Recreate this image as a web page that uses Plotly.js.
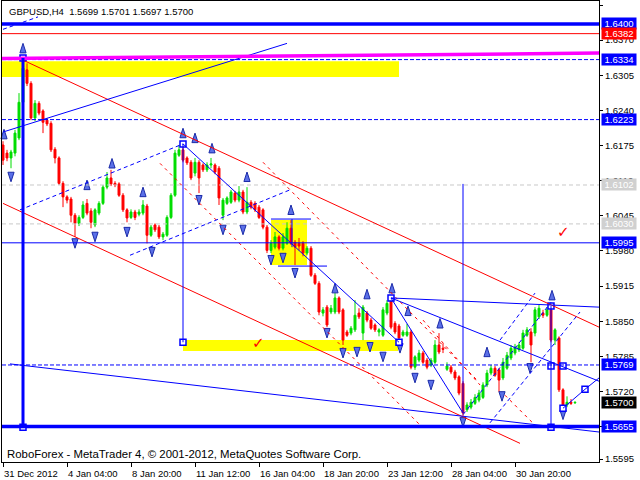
<!DOCTYPE html>
<html><head><meta charset="utf-8">
<script src="https://cdn.plot.ly/plotly-3.0.1.min.js"></script>
<style>html,body{margin:0;padding:0;background:#fff}#chart{width:640px;height:480px}</style>
</head><body><div id="chart"></div>
<script>
// ---------- DATA ----------
const symbolTitle = 'GBPUSD,H4';
const lastQuote = ['1.5699', '1.5701', '1.5697', '1.5700'];
const copyrightText = 'RoboForex - MetaTrader 4, \u00a9 2001-2012, MetaQuotes Software Corp.';

const opens = [
1.6176,1.6161,1.6152,1.6161,1.6189,1.6255,1.6315,1.6290,1.6226,1.6253,
1.6239,1.6222,1.6216,1.6168,1.6152,1.6105,1.6080,1.6076,1.6046,1.6031,
1.6042,1.6068,1.6054,1.6028,1.6050,1.6068,1.6098,1.6115,1.6105,1.6104,
1.6083,1.6056,1.6042,1.6052,1.6048,1.6050,1.6063,1.6009,1.6028,1.6024,
1.6006,1.6009,1.6042,1.6083,1.6157,1.6167,1.6152,1.6144,1.6124,1.6144,
1.6139,1.6130,1.6139,1.6139,1.6133,1.6046,1.6068,1.6070,1.6087,1.6074,
1.6089,1.6052,1.6070,1.6068,1.6061,1.6056,1.6024,1.5981,1.5987,1.6006,
1.5985,1.5994,1.6022,1.5996,1.5994,1.5994,1.5976,1.5985,1.5935,1.5920,
1.5865,1.5876,1.5867,1.5867,1.5893,1.5871,1.5830,1.5828,1.5834,1.5865,
1.5828,1.5865,1.5852,1.5843,1.5830,1.5824,1.5865,1.5889,1.5846,1.5841,
1.5824,1.5824,1.5830,1.5765,1.5778,1.5791,1.5778,1.5769,1.5774,1.5806,
1.5800,1.5761,1.5765,1.5756,1.5747,1.5735,1.5686,1.5691,1.5698,1.5704,
1.5709,1.5732,1.5754,1.5763,1.5760,1.5745,1.5763,1.5782,1.5791,1.5797,
1.5800,1.5824,1.5830,1.5828,1.5858,1.5865,1.5861,1.5871,1.5815,1.5819,
1.5723,1.5695,1.5700,1.5699];
const highs = [
1.6183,1.6167,1.6167,1.6204,1.6272,1.6337,1.6327,1.6294,1.6259,1.6257,
1.6242,1.6226,1.6220,1.6172,1.6155,1.6109,1.6083,1.6080,1.6050,1.6046,
1.6072,1.6076,1.6059,1.6059,1.6072,1.6102,1.6126,1.6130,1.6109,1.6107,
1.6087,1.6059,1.6057,1.6056,1.6057,1.6074,1.6067,1.6028,1.6031,1.6028,
1.6015,1.6046,1.6087,1.6167,1.6176,1.6178,1.6155,1.6148,1.6152,1.6148,
1.6142,1.6144,1.6152,1.6142,1.6137,1.6078,1.6081,1.6093,1.6091,1.6100,
1.6093,1.6098,1.6074,1.6072,1.6065,1.6059,1.6028,1.6000,1.6015,1.6009,
1.6013,1.6033,1.6037,1.6000,1.6004,1.5998,1.5989,1.5989,1.5939,1.5924,
1.5876,1.5880,1.5880,1.5902,1.5896,1.5874,1.5834,1.5841,1.5889,1.5874,
1.5880,1.5869,1.5856,1.5846,1.5837,1.5876,1.5889,1.5893,1.5850,1.5845,
1.5834,1.5845,1.5834,1.5787,1.5797,1.5795,1.5782,1.5782,1.5815,1.5828,
1.5809,1.5774,1.5769,1.5760,1.5750,1.5739,1.5700,1.5706,1.5715,1.5723,
1.5737,1.5760,1.5769,1.5767,1.5763,1.5782,1.5793,1.5806,1.5808,1.5811,
1.5834,1.5839,1.5837,1.5876,1.5880,1.5871,1.5876,1.5880,1.5837,1.5822,
1.5726,1.5711,1.5706,1.5701];
const lows = [
1.6139,1.6146,1.6133,1.6155,1.6185,1.6252,1.6285,1.6222,1.6220,1.6231,
1.6198,1.6211,1.6163,1.6142,1.6102,1.6061,1.6068,1.6033,1.6006,1.6026,
1.6039,1.6046,1.6022,1.6024,1.6046,1.6065,1.6094,1.6100,1.6098,1.6080,
1.6052,1.6033,1.6039,1.6037,1.6044,1.6046,1.5994,1.6006,1.6015,1.6002,
1.6000,1.6006,1.6039,1.6080,1.6154,1.6144,1.6139,1.6111,1.6118,1.6087,
1.6126,1.6126,1.6133,1.6122,1.6065,1.6037,1.6065,1.6067,1.6070,1.6070,
1.6048,1.6048,1.6057,1.6052,1.6039,1.6020,1.5976,1.5976,1.5983,1.5981,
1.5981,1.5991,1.5991,1.5954,1.5981,1.5970,1.5972,1.5932,1.5917,1.5861,
1.5859,1.5839,1.5863,1.5863,1.5863,1.5806,1.5821,1.5824,1.5830,1.5854,
1.5815,1.5848,1.5834,1.5830,1.5822,1.5821,1.5861,1.5835,1.5826,1.5811,
1.5821,1.5821,1.5761,1.5760,1.5774,1.5771,1.5761,1.5765,1.5771,1.5789,
1.5791,1.5758,1.5752,1.5741,1.5713,1.5674,1.5682,1.5687,1.5695,1.5700,
1.5706,1.5728,1.5750,1.5747,1.5719,1.5741,1.5760,1.5778,1.5787,1.5793,
1.5797,1.5821,1.5774,1.5822,1.5854,1.5856,1.5858,1.5811,1.5806,1.5719,
1.5689,1.5691,1.5695,1.5697];
const closes = [
1.6148,1.6152,1.6163,1.6198,1.6255,1.6318,1.6290,1.6226,1.6253,1.6235,
1.6218,1.6215,1.6167,1.6152,1.6105,1.6080,1.6074,1.6046,1.6031,1.6042,
1.6065,1.6050,1.6033,1.6056,1.6068,1.6098,1.6115,1.6104,1.6102,1.6083,
1.6056,1.6041,1.6052,1.6042,1.6052,1.6065,1.6009,1.6024,1.6019,1.6006,
1.6011,1.6042,1.6083,1.6161,1.6167,1.6148,1.6143,1.6115,1.6144,1.6115,
1.6130,1.6139,1.6141,1.6126,1.6078,1.6074,1.6078,1.6089,1.6074,1.6089,
1.6052,1.6070,1.6061,1.6056,1.6042,1.6024,1.5981,1.5994,1.6006,1.5985,
1.6006,1.6022,1.5994,1.5987,1.5989,1.5976,1.5985,1.5935,1.5920,1.5867,
1.5871,1.5843,1.5874,1.5893,1.5867,1.5815,1.5824,1.5837,1.5861,1.5858,
1.5876,1.5852,1.5837,1.5834,1.5834,1.5871,1.5883,1.5839,1.5830,1.5819,
1.5830,1.5830,1.5765,1.5784,1.5791,1.5774,1.5765,1.5778,1.5806,1.5793,
1.5798,1.5767,1.5756,1.5745,1.5717,1.5680,1.5695,1.5700,1.5709,1.5717,
1.5732,1.5754,1.5763,1.5750,1.5741,1.5774,1.5787,1.5800,1.5802,1.5806,
1.5828,1.5834,1.5806,1.5871,1.5874,1.5861,1.5871,1.5815,1.5834,1.5723,
1.5695,1.5700,1.5698,1.5700];

const timeLabelBars = [0, 16, 32, 48, 64, 80, 96, 112, 128];
const timeLabels = ['31 Dec 2012', '4 Jan 04:00', '8 Jan 20:00', '11 Jan 12:00', '16 Jan 04:00',
                    '18 Jan 20:00', '23 Jan 12:00', '28 Jan 04:00', '30 Jan 20:00'];
const priceTicks = [1.6435, 1.6370, 1.6305, 1.6240, 1.6175, 1.6110, 1.6045, 1.5980, 1.5915, 1.5850, 1.5785, 1.5720, 1.5655, 1.5595];

// horizontal analysis levels
const blueThickLevels = [1.6400, 1.5655];
const redLevels = [1.6382];
const blueDashLevels = [1.6334, 1.6223, 1.5769];
const grayDashLevels = [1.6102, 1.6030];
const blueSolidLevels = [1.5995];
const lastPrice = 1.5700;

// trend lines [bar0, price0, bar1, price1]
const magentaLine = [-0.25, 1.6336, 149, 1.6346];
const blueThickVertical = [5, 1.6337, 5, 1.5654];
const blueSolidLines = [
  [0, 1.6200, 71, 1.6364],
  [45, 1.6178, 99, 1.5811],
  [97, 1.5893, 149, 1.5876],
  [97, 1.5893, 115, 1.5680],
  [97, 1.5893, 149, 1.5739],
  [1.75, 1.5771, 149, 1.5645],
  [140, 1.5689, 145.5, 1.5724],
  [145.5, 1.5724, 149, 1.5745],
  [67, 1.6039, 77, 1.6039],
  [68.75, 1.5952, 81, 1.5952],
  [72.25, 1.6039, 72.25, 1.5987],
  [45, 1.6178, 45, 1.5811],
  [115, 1.6104, 115, 1.5680],
  [137, 1.5878, 137, 1.5654]
];
const blueDashLines = [
  [0, 1.6390, 8.75, 1.6413],
  [4.25, 1.6056, 45, 1.6178],
  [31.75, 1.5972, 71.75, 1.6093],
  [115, 1.5677, 137, 1.5885],
  [121.75, 1.5662, 144.25, 1.5867],
  [124.25, 1.5815, 133, 1.5902]
];
const redSolidLines = [
  [5, 1.6333, 149, 1.5839],
  [0, 1.6068, 129.25, 1.5624]
];
const redDashLines = [
  [39.25, 1.6142, 104.25, 1.5658],
  [65, 1.6144, 118.5, 1.5741],
  [105, 1.5852, 119.25, 1.5732],
  [125.5, 1.5713, 133.5, 1.5654]
];
// yellow zones [bar0, priceTop, bar1, priceBottom]
const yellowZones = [
  [-0.25, 1.6331, 99, 1.6302],
  [45, 1.5815, 98.75, 1.5795],
  [67, 1.6037, 76, 1.5954]
];
// anchor squares
const squareBars = [5, 5, 45, 45, 97, 99, 137, 137, 137, 140, 140, 145.5];
const squarePrices = [1.6337, 1.5654, 1.6178, 1.5811, 1.5893, 1.5811, 1.5878, 1.5767, 1.5654, 1.5767, 1.5689, 1.5724];
// fractal arrows (tip positions)
const upArrowBars = [0.25, 5, 21, 27.25, 35, 45, 48, 52.25, 61, 72, 83, 91, 97.25, 101.25, 109.25, 121, 137.25];
const upArrowPrices = [1.6205, 1.6364, 1.6111, 1.6151, 1.6098, 1.6207, 1.6198, 1.6179, 1.6126, 1.6065, 1.5920, 1.5909, 1.5920, 1.5878, 1.5855, 1.5802, 1.5907];
const downArrowBars = [2, 18, 23, 31, 37.25, 49, 55, 60, 67, 70, 73, 81, 85, 88.5, 91.75, 95, 99.25, 103, 107, 115, 124.75, 131.75, 140];
const downArrowPrices = [1.6108, 1.5985, 1.5997, 1.6006, 1.5969, 1.6065, 1.6010, 1.6010, 1.5954, 1.5958, 1.5930, 1.5819, 1.5782, 1.5784, 1.5793, 1.5775, 1.5791, 1.5736, 1.5723, 1.5654, 1.5702, 1.5754, 1.5668];
// check marks
const checkBars = [63.75, 140];
const checkPrices = [1.5809, 1.6015];

// ---------- STYLE ----------
const BLUE = '#0000ff', RED = '#ff0000', GREEN = '#00dd00';
const FONT = 'Liberation Sans, Arial, sans-serif';

const bars = opens.map((_, i) => i);
const traces = [{
  type: 'candlestick', x: bars, open: opens, high: highs, low: lows, close: closes,
  increasing: {line: {color: GREEN, width: 1}, fillcolor: GREEN},
  decreasing: {line: {color: RED, width: 1}, fillcolor: RED},
  whiskerwidth: 0, hoverinfo: 'skip', showlegend: false
}, {
  type: 'scatter', mode: 'markers', x: upArrowBars, y: upArrowPrices, cliponaxis: false,
  marker: {symbol: 'arrow', size: 10, angle: 0, color: '#5b70e8', line: {color: '#1a2aa8', width: 1}},
  hoverinfo: 'skip', showlegend: false
}, {
  type: 'scatter', mode: 'markers', x: downArrowBars, y: downArrowPrices, cliponaxis: false,
  marker: {symbol: 'arrow', size: 10, angle: 180, color: '#5b70e8', line: {color: '#1a2aa8', width: 1}},
  hoverinfo: 'skip', showlegend: false
}, {
  type: 'scatter', mode: 'markers', x: squareBars, y: squarePrices, cliponaxis: false,
  marker: {symbol: 'square', size: 6, color: '#ffffff', line: {color: BLUE, width: 1.5}},
  hoverinfo: 'skip', showlegend: false
}];

const shapes = [];
yellowZones.forEach(z => shapes.push({type: 'rect', xref: 'x', yref: 'y', x0: z[0], y0: z[1], x1: z[2], y1: z[3],
  fillcolor: '#ffff00', line: {width: 0}, layer: 'below'}));
function hline(p, color, width, dash) {
  shapes.push({type: 'line', xref: 'paper', yref: 'y', x0: 0, x1: 1, y0: p, y1: p, line: {color: color, width: width, dash: dash || 'solid'}});
}
function seg(s, color, width, dash) {
  shapes.push({type: 'line', xref: 'x', yref: 'y', x0: s[0], y0: s[1], x1: s[2], y1: s[3], line: {color: color, width: width, dash: dash || 'solid'}});
}
grayDashLevels.forEach(p => hline(p, '#c8c8c8', 1, '4px,3px'));
redDashLines.forEach(s => seg(s, RED, 1, '3px,4px'));
redSolidLines.forEach(s => seg(s, RED, 1));
blueDashLines.forEach(s => seg(s, BLUE, 1, '4px,3px'));
blueSolidLines.forEach(s => seg(s, BLUE, 1));
blueDashLevels.forEach(p => hline(p, BLUE, 1, '4px,2px'));
blueSolidLevels.forEach(p => hline(p, BLUE, 1));
redLevels.forEach(p => hline(p, RED, 1));
blueThickLevels.forEach(p => hline(p, BLUE, 3.5));
seg(magentaLine, '#ff00ff', 3.5);
seg(blueThickVertical, BLUE, 3);

const annotations = [];
annotations.push({xref: 'paper', yref: 'paper', x: 0, y: 1, xanchor: 'left', yanchor: 'top', xshift: 5, yshift: -3,
  text: symbolTitle + '\u00a0\u00a0' + lastQuote.join(' '), showarrow: false, font: {family: FONT, size: 9.5, color: '#000'}});
annotations.push({xref: 'paper', yref: 'paper', x: 0, y: 0, xanchor: 'left', yanchor: 'bottom', xshift: 3, yshift: 0,
  text: copyrightText, showarrow: false, font: {family: FONT, size: 11.4, color: '#000'}});
timeLabelBars.forEach((b, i) => annotations.push({xref: 'x', yref: 'paper', x: b, y: 0, xanchor: 'left', yanchor: 'top',
  yshift: -4, xshift: -1, text: timeLabels[i], showarrow: false, font: {family: FONT, size: 9.5, color: '#000'}}));
function priceBox(p, bg, fg) {
  annotations.push({xref: 'paper', yref: 'y', x: 1, y: p, xanchor: 'left', yanchor: 'middle', xshift: 2,
    text: p.toFixed(4), showarrow: false, bgcolor: bg, borderpad: 0, width: 34, height: 11,
    font: {family: FONT, size: 9.5, color: fg}});
}
blueThickLevels.forEach(p => priceBox(p, BLUE, '#fff'));
redLevels.forEach(p => priceBox(p, RED, '#fff'));
blueDashLevels.forEach(p => priceBox(p, BLUE, '#fff'));
grayDashLevels.forEach(p => priceBox(p, '#d0d0d0', '#fff'));
blueSolidLevels.forEach(p => priceBox(p, BLUE, '#fff'));
priceBox(lastPrice, '#000', '#fff');
checkBars.forEach((b, i) => annotations.push({xref: 'x', yref: 'y', x: b, y: checkPrices[i], text: '\u2713',
  showarrow: false, font: {family: 'DejaVu Sans', size: 15, color: RED}}));

const layout = {
  width: 640, height: 480, margin: {l: 2, r: 41, t: 1, b: 18},
  paper_bgcolor: '#fff', plot_bgcolor: '#fff', showlegend: false,
  xaxis: {range: [-0.25, 149], showgrid: false, zeroline: false, showline: true, linecolor: '#000', linewidth: 1,
    mirror: true, tickvals: timeLabelBars, ticks: 'outside', ticklen: 4, tickcolor: '#000', showticklabels: false,
    rangeslider: {visible: false}, fixedrange: true},
  yaxis: {side: 'right', range: [1.55895, 1.64424], showgrid: false, zeroline: false, showline: true, linecolor: '#000',
    linewidth: 1, mirror: true, tickvals: priceTicks, ticktext: priceTicks.map(v => v.toFixed(4)), ticks: 'outside',
    ticklen: 3, tickcolor: '#000', tickfont: {family: FONT, size: 9.5, color: '#000'}, fixedrange: true},
  shapes: shapes, annotations: annotations
};
Plotly.newPlot('chart', traces, layout, {staticPlot: true, displayModeBar: false});
</script></body></html>
